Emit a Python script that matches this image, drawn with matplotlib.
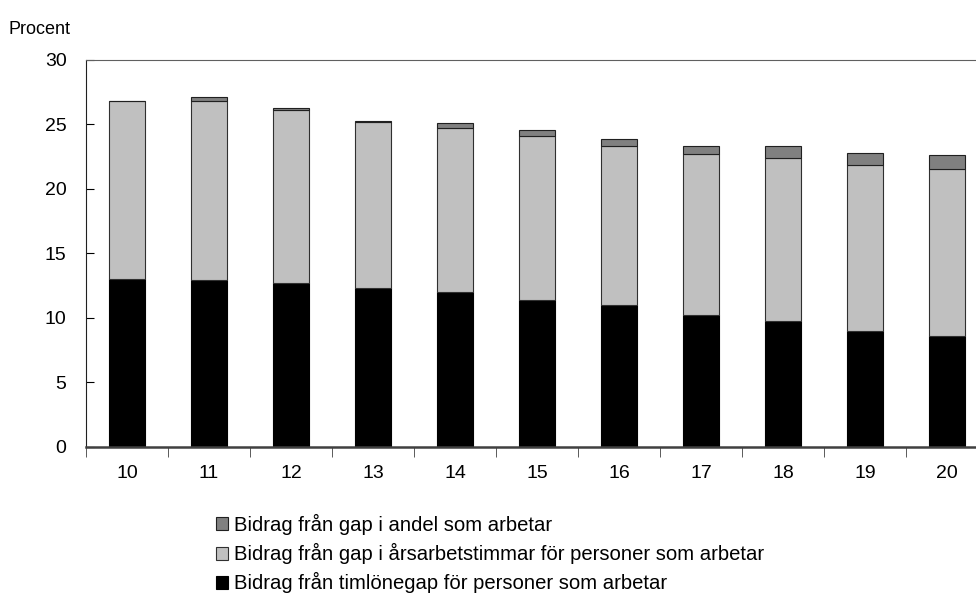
import numpy as np
import matplotlib.pyplot as plt

plt.rcParams['font.family'] = ['Liberation Sans', 'DejaVu Sans']

years = ['10', '11', '12', '13', '14', '15', '16', '17', '18', '19', '20']
# bidrag fran timlonegap (svart), arsarbetstimmar (ljusgra), andel som arbetar (mork gra)
timlon = [13.0, 12.9, 12.7, 12.35, 12.0, 11.35, 11.0, 10.25, 9.75, 9.0, 8.55]
timmar = [13.8, 13.9, 13.4, 12.85, 12.75, 12.75, 12.35, 12.45, 12.65, 12.85, 13.0]
andel = [0.0, 0.35, 0.2, 0.05, 0.35, 0.5, 0.55, 0.6, 0.9, 0.95, 1.1]

labels = ['Bidrag från gap i andel som arbetar',
          'Bidrag från gap i årsarbetstimmar för personer som arbetar',
          'Bidrag från timlönegap för personer som arbetar']

fig = plt.figure(figsize=(9.76, 5.95), dpi=100)
ax = fig.add_axes([86/976, 148.3/595, 902/976, 386.7/595])

x = np.arange(len(years))
w = 0.44
b1 = ax.bar(x, timlon, w, color='black', edgecolor='black', linewidth=0.8)
b2 = ax.bar(x, timmar, w, bottom=timlon, color='#c0c0c0', edgecolor='#303030', linewidth=0.8)
bottom2 = np.array(timlon) + np.array(timmar)
b3 = ax.bar(x, andel, w, bottom=bottom2, color='#808080', edgecolor='#202020', linewidth=0.8)

ax.set_xlim(-0.5, len(years) - 0.5)
ax.set_ylim(0, 30)
ax.set_yticks(range(0, 31, 5))
ax.tick_params(axis='y', direction='in', length=6, pad=14, labelsize=14)
ax.set_xticks(x)
ax.set_xticklabels(years)
ax.tick_params(axis='x', length=0, pad=13, labelsize=14)
ax.set_xticks(np.arange(-0.5, len(years) - 0.5, 1), minor=True)
ax.tick_params(axis='x', which='minor', direction='out', length=7, color='#404040')

for s in ['left', 'right']:
    ax.spines[s].set_color('#202020')
ax.spines['top'].set_color('#606060')
ax.spines['bottom'].set_color('#404040')
ax.spines['bottom'].set_linewidth(1.8)

fig.text(8/976, 1 - 30/595, 'Procent', fontsize=13, va='center', ha='left')

fig.legend([b3, b2, b1], labels, loc='upper left', bbox_to_anchor=(216/976, 1 - 514/595),
           frameon=False, fontsize=14.6, handlelength=0.6, handleheight=0.6,
           handletextpad=0.3, labelspacing=0.4, borderaxespad=0, borderpad=0)

fig.savefig('out.png', dpi=100)
